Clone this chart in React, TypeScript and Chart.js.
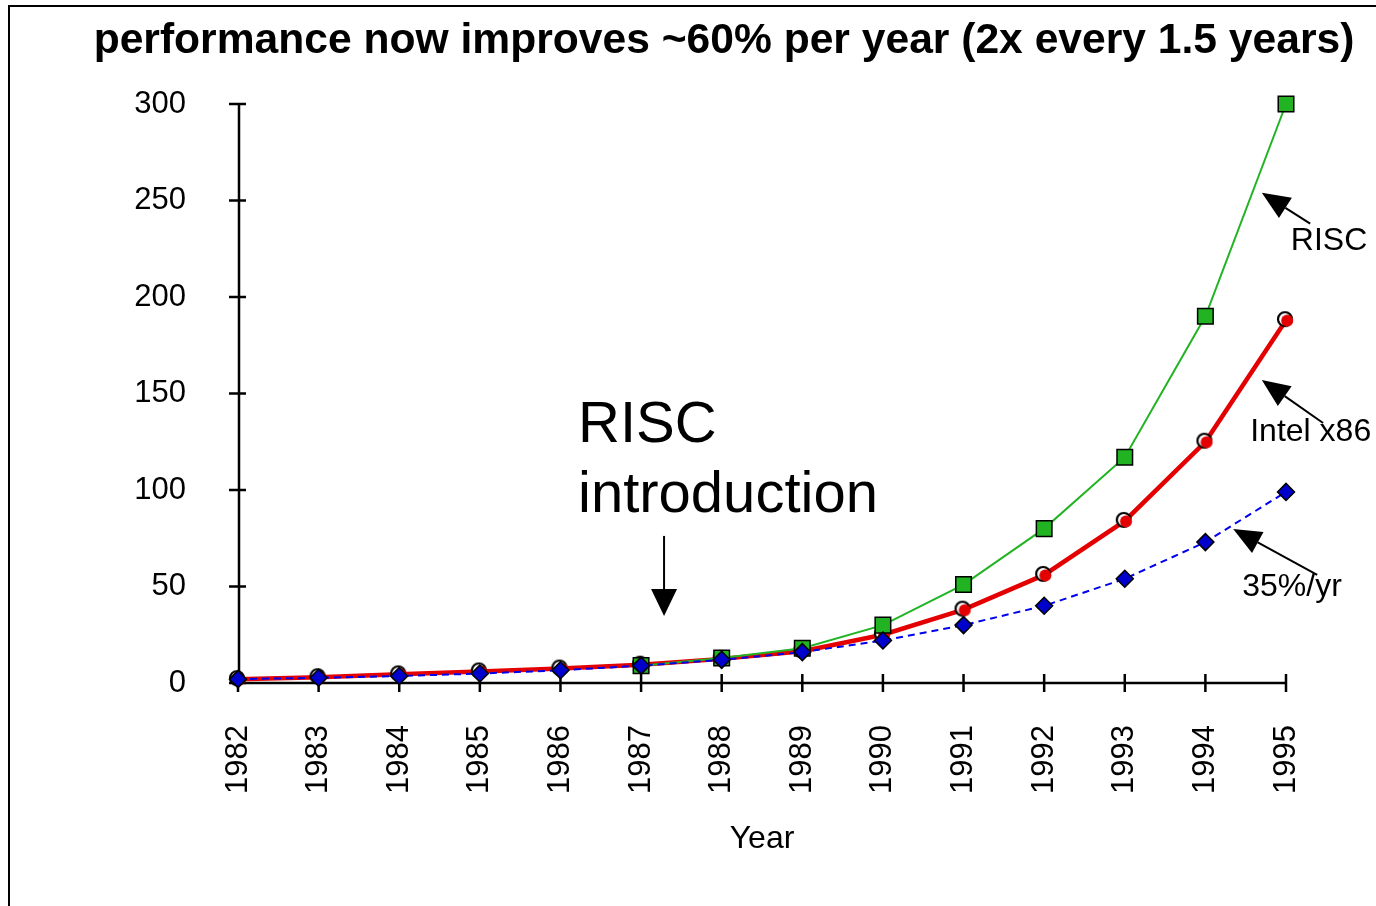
import React, { useEffect, useRef } from "react";
import { Chart, registerables } from "chart.js";

Chart.register(...registerables);

const years = ["1982", "1983", "1984", "1985", "1986", "1987", "1988", "1989", "1990", "1991", "1992", "1993", "1994", "1995"];
const riscValues = [null, null, null, null, null, 9, 13, 18, 30, 51, 80, 117, 190, 300];
const intelValues = [2, 3, 4.5, 6, 7.5, 9.5, 12.5, 16.5, 25, 38, 56, 84, 125, 188];
const trendValues = [2, 2.7, 3.6, 4.9, 6.6, 9, 12, 16, 22, 30, 40, 54, 73, 99];
const yTicks = [0, 50, 100, 150, 200, 250, 300];

const titleText = "performance now improves ~60% per year (2x every 1.5 years)";
const FONT = "'Liberation Sans', Arial, sans-serif";

function makeCircleMarker(): HTMLCanvasElement {
  const c = document.createElement("canvas");
  c.width = 24;
  c.height = 24;
  const g = c.getContext("2d")!;
  g.beginPath();
  g.arc(11, 11, 7, 0, Math.PI * 2);
  g.fillStyle = "#ffffff";
  g.fill();
  g.lineWidth = 2.2;
  g.strokeStyle = "#000000";
  g.stroke();
  g.beginPath();
  g.arc(13.2, 12.6, 6, 0, Math.PI * 2);
  g.fillStyle = "#e40000";
  g.fill();
  return c;
}

function arrow(ctx: CanvasRenderingContext2D, x1: number, y1: number, x2: number, y2: number, headLen: number, headW: number) {
  const ang = Math.atan2(y2 - y1, x2 - x1);
  const bx = x2 - Math.cos(ang) * headLen;
  const by = y2 - Math.sin(ang) * headLen;
  ctx.beginPath();
  ctx.moveTo(x1, y1);
  ctx.lineTo(bx, by);
  ctx.lineWidth = 2;
  ctx.strokeStyle = "#000";
  ctx.stroke();
  const px = -Math.sin(ang) * headW / 2;
  const py = Math.cos(ang) * headW / 2;
  ctx.beginPath();
  ctx.moveTo(x2, y2);
  ctx.lineTo(bx + px, by + py);
  ctx.lineTo(bx - px, by - py);
  ctx.closePath();
  ctx.fillStyle = "#000";
  ctx.fill();
}

const decorPlugin = {
  id: "decor",
  beforeDatasetsDraw(chart: any) {
    const ctx = chart.ctx as CanvasRenderingContext2D;
    const { left, right, top, bottom } = chart.chartArea;
    const xs = chart.scales.x;
    const ys = chart.scales.y;
    ctx.save();
    ctx.strokeStyle = "#000";
    ctx.lineWidth = 2.5;
    ctx.beginPath();
    ctx.moveTo(left + 1, top - 1);
    ctx.lineTo(left + 1, bottom);
    ctx.moveTo(left, bottom);
    ctx.lineTo(right + 1, bottom);
    ctx.stroke();
    ctx.beginPath();
    yTicks.forEach((v) => {
      const y = ys.getPixelForValue(v);
      ctx.moveTo(left - 9, y);
      ctx.lineTo(left + 8, y);
    });
    years.forEach((_, i) => {
      const x = xs.getPixelForValue(i);
      ctx.moveTo(x, bottom - 9);
      ctx.lineTo(x, bottom + 9);
    });
    ctx.stroke();
    ctx.restore();
  },
  afterDraw(chart: any) {
    const ctx = chart.ctx as CanvasRenderingContext2D;
    const { left, right, bottom } = chart.chartArea;
    const xs = chart.scales.x;
    const ys = chart.scales.y;
    const px = (i: number) => xs.getPixelForValue(i);
    const py = (v: number) => ys.getPixelForValue(v);
    ctx.save();
    ctx.strokeStyle = "#000";
    ctx.lineWidth = 2;
    ctx.strokeRect(9, 6, 1400, 940);
    ctx.fillStyle = "#000";
    ctx.font = `bold 42.6px ${FONT}`;
    ctx.textAlign = "center";
    ctx.textBaseline = "alphabetic";
    ctx.fillText(titleText, 724, 53);
    ctx.font = `32px ${FONT}`;
    ctx.fillText("Year", (left + right) / 2, bottom + 165);
    ctx.textAlign = "left";
    ctx.textBaseline = "middle";
    ctx.font = `32px ${FONT}`;
    ctx.fillText("RISC", px(13.06), py(229));
    ctx.fillText("Intel x86", px(12.556), py(130));
    ctx.fillText("35%/yr", px(12.457), py(49.5));
    arrow(ctx, px(13.3), py(238), px(12.7), py(254), 28, 24);
    arrow(ctx, px(13.46), py(134.7), px(12.7), py(157), 28, 24);
    arrow(ctx, px(13.387), py(56), px(12.345), py(79.8), 28, 24);
    ctx.textBaseline = "alphabetic";
    ctx.font = `58px ${FONT}`;
    ctx.fillText("RISC", px(4.218), py(124.9));
    ctx.fillText("introduction", px(4.218), py(88.6));
    arrow(ctx, px(5.285), py(76.2), px(5.285), py(34.7), 27, 26);
    ctx.restore();
  },
};

export default function App() {
  const ref = useRef<HTMLCanvasElement | null>(null);
  useEffect(() => {
    document.body.style.overflow = "hidden";
    const circle = makeCircleMarker();
    const chart = new Chart(ref.current!, {
      type: "line",
      data: {
        labels: years,
        datasets: [
          {
            label: "35%/yr",
            data: trendValues,
            borderColor: "#0000ee",
            borderWidth: 2,
            borderDash: [7, 5],
            pointStyle: "rectRot",
            pointRadius: 8.5,
            pointBackgroundColor: "#0000cc",
            pointBorderColor: "#000",
            pointBorderWidth: 1.5,
            tension: 0,
            clip: false as any,
          },
          {
            label: "RISC",
            data: riscValues,
            borderColor: "#22b322",
            borderWidth: 2,
            pointStyle: "rect",
            pointRadius: 11,
            pointBackgroundColor: "#22b322",
            pointBorderColor: "#000",
            pointBorderWidth: 1.5,
            tension: 0,
            spanGaps: false,
            clip: false as any,
          },
          {
            label: "Intel x86",
            data: intelValues,
            borderColor: "#e40000",
            borderWidth: 4.5,
            pointStyle: circle as any,
            pointRadius: 8,
            tension: 0,
            clip: false as any,
          },
        ],
      },
      options: {
        animation: false,
        responsive: false,
        devicePixelRatio: 1,
        layout: { padding: { top: 104, right: 90, left: 0, bottom: 0 } },
        plugins: { legend: { display: false }, tooltip: { enabled: false }, title: { display: false } },
        scales: {
          x: {
            type: "category",
            offset: false,
            grid: { display: false, drawTicks: false },
            border: { display: false },
            ticks: {
              minRotation: 90,
              maxRotation: 90,
              autoSkip: false,
              padding: 42,
              color: "#000",
              font: { family: FONT, size: 31 },
            },
            afterFit: (s: any) => {
              s.height = 223;
            },
          },
          y: {
            min: 0,
            max: 300,
            grid: { display: false, drawTicks: false },
            border: { display: false },
            ticks: {
              stepSize: 50,
              padding: 52,
              color: "#000",
              font: { family: FONT, size: 31 },
            },
            afterFit: (s: any) => {
              s.width = 238;
            },
          },
        },
      },
      plugins: [decorPlugin],
    });
    return () => chart.destroy();
  }, []);
  return (
    <div style={{ position: "absolute", left: 0, top: 0, width: 1376, height: 906, background: "#fff" }}>
      <canvas ref={ref} width={1376} height={906} style={{ display: "block" }} />
    </div>
  );
}
